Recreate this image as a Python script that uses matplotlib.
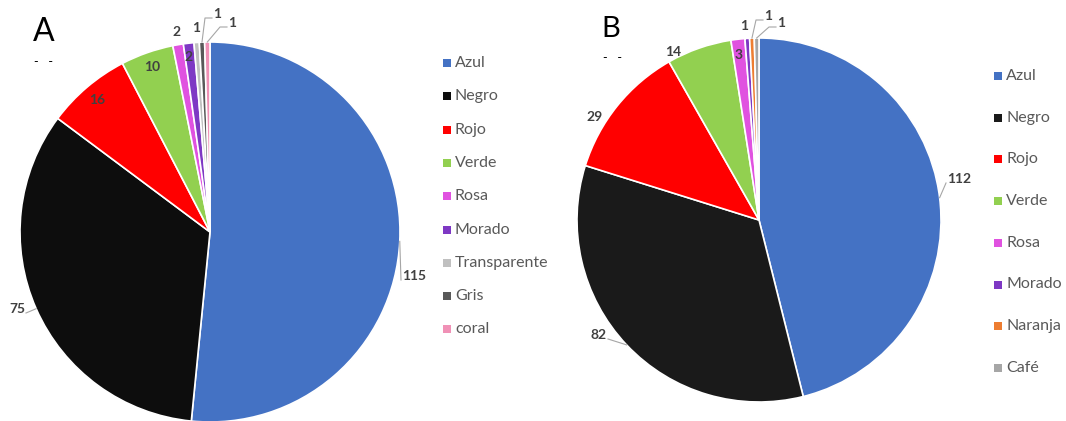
import numpy as np
import matplotlib.pyplot as plt

plt.rcParams['font.family'] = ['Lato', 'DejaVu Sans']

# Chart A
cats_a = ['Azul', 'Negro', 'Rojo', 'Verde', 'Rosa', 'Morado', 'Transparente', 'Gris', 'coral']
vals_a = [115, 75, 16, 10, 2, 2, 1, 1, 1]
cols_a = ['#4472C4', '#0D0D0D', '#FF0000', '#92D050', '#E052E0', '#7E38C4',
          '#C0C0C0', '#595959', '#F091B6']

# Chart B
cats_b = ['Azul', 'Negro', 'Rojo', 'Verde', 'Rosa', 'Morado', 'Naranja', 'Café']
vals_b = [112, 82, 29, 14, 3, 1, 1, 1]
cols_b = ['#4472C4', '#1A1A1A', '#FF0000', '#92D050', '#E052E0', '#7E38C4',
          '#ED7D31', '#A6A6A6']

# label placement in pixel coords: (x, y, mode)
#   'c'  -> centred text, no leader
#   'l'  -> text to the right of point, straight leader from wedge edge
#   'r'  -> text to the left of point, straight leader from wedge edge
#   'lb' -> text to the right of point, bent leader from wedge edge
lab_a = [(401, 280, 'l'), (26, 313, 'r'), (97, 100, 'c'), (152, 67, 'c'),
         (177, 32, 'c'), (189, 57, 'c'), (196, 28, 'c'), (212, 18, 'lb'),
         (227, 27, 'lb')]
lab_b = [(946, 183, 'l'), (608, 339, 'r'), (595, 117, 'c'), (673, 52, 'c'),
         (739, 55, 'c'), (744, 26, 'c'), (763, 20, 'lb'), (776, 27, 'lb')]

LBL = '#404040'
LEAD = '#A6A6A6'


def draw_pie(ax, vals, cols, center, radius, labels):
    wedges, _ = ax.pie(vals, colors=cols, center=center, radius=radius,
                       startangle=-90, counterclock=True,
                       wedgeprops=dict(edgecolor='white', linewidth=1.2))
    cx, cy = center
    for w, v, (x, y, mode) in zip(wedges, vals, labels):
        mid = np.deg2rad((w.theta1 + w.theta2) / 2)
        ex, ey = cx + radius * np.cos(mid), cy + radius * np.sin(mid)
        txt = str(v)
        if mode == 'c':
            ax.text(x, y, txt, ha='center', va='center', fontsize=10,
                    fontweight='bold', color=LBL)
            continue
        if mode == 'lb':
            ax.plot([ex, x - 7, x], [ey, y, y], color=LEAD, lw=0.8)
        else:
            ax.plot([ex, x], [ey, y], color=LEAD, lw=0.8)
        ha = 'right' if mode == 'r' else 'left'
        ax.text(x + (-1 if ha == 'right' else 1), y, txt, ha=ha, va='baseline',
                fontsize=10, fontweight='bold', color=LBL)


def draw_legend(ax, cats, cols, x, y0, step):
    for i, (c, col) in enumerate(zip(cats, cols)):
        y = y0 + i * step
        ax.scatter([x], [y], marker='s', s=26, color=col, linewidths=0)
        ax.text(x + 8, y, c, ha='left', va='center', fontsize=11.5, color='#595959')


fig = plt.figure(figsize=(10.66, 4.21), dpi=100)
ax = fig.add_axes([0, 0, 1, 1])

draw_pie(ax, vals_a, cols_a, (210, 232), 190, lab_a)
draw_pie(ax, vals_b, cols_b, (759, 220), 182, lab_b)

draw_legend(ax, cats_a, cols_a, 447, 63, 33.3)
draw_legend(ax, cats_b, cols_b, 998, 76, 41.7)

ax.text(33, 41, 'A', fontsize=23, color='black', ha='left', va='baseline')
ax.text(601, 37, 'B', fontsize=21, color='black', ha='left', va='baseline')
ax.text(34, 62, '-   -', fontsize=9, color='black', ha='left', va='center')
ax.text(603, 58, '-   -', fontsize=9, color='black', ha='left', va='center')

ax.set_xlim(0, 1066)
ax.set_ylim(421, 0)
ax.set_aspect('equal')
ax.axis('off')

fig.savefig('out.png', dpi=100, facecolor='white')
